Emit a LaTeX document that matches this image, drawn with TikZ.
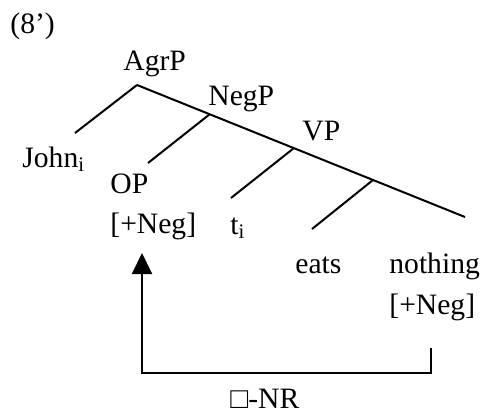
\documentclass[tikz,border=0pt]{standalone}
\usepackage{fontspec}
\setmainfont{Liberation Serif}
\usetikzlibrary{positioning,arrows.meta}

\begin{document}
\begin{tikzpicture}[x=0.5pt,y=-0.5pt,
  lbl/.style={anchor=base west,inner sep=0pt,font=\fontsize{14.8}{17}\selectfont},
  branch/.style={black,line width=1pt},
  move/.style={black,line width=1pt,-{Triangle[width=10pt,length=10.5pt]}}]
\useasboundingbox (0,0) rectangle (488,414);
% tree points
\coordinate (agr) at (137,85);
\coordinate (neg) at (210,114);
\coordinate (vp) at (294,148);
\coordinate (vbar) at (373,180);
\coordinate (obj) at (465,217);
\coordinate (subj) at (75,133);
\coordinate (op) at (148,163);
\coordinate (tr) at (231,198);
\coordinate (verb) at (312,229);
\draw[branch] (agr) -- (obj);
\draw[branch] (agr) -- (subj);
\draw[branch] (neg) -- (op);
\draw[branch] (vp) -- (tr);
\draw[branch] (vbar) -- (verb);
% labels
\node[lbl] (ex) at (10,33) {(8’)};
\node[lbl] (agrP) at (123,70) {AgrP};
\node[lbl] (negP) at (208,105) {NegP};
\node[lbl] (vpP) at (302,140) {VP};
\node[lbl] (john) at (22,167) {John\textsubscript{i}};
\node[lbl] (opP) at (110,193) {OP};
\node[lbl] (opneg) at (110,233) {[+Neg]};
\node[lbl] (trace) at (230,234) {t\textsubscript{i}};
\node[lbl] (eats) at (295,273) {eats};
\node[lbl] (nothing) at (389,273) {nothing};
\node[lbl] (objneg) at (389,314) {[+Neg]};
\node[lbl] (nr) at (230,408) {□-NR};
% movement
\coordinate (tail) at (431,348);
\coordinate (head) at (142,253);
\draw[move] (tail) -- ++(0,25) -| (head);
\end{tikzpicture}
\end{document}
